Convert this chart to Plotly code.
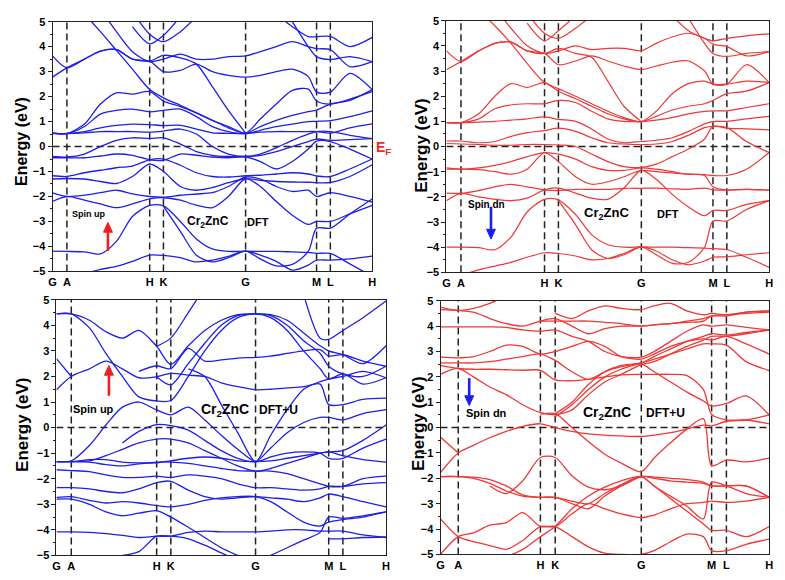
import plotly.graph_objects as go

W, H = 785, 580
FONT = "Liberation Sans"

# ---------------- k-path ----------------
K_LABELS = ["G", "A", "H", "K", "G", "M", "L", "H"]
NODES_TL = [0, 0.045, 0.304, 0.347, 0.604, 0.826, 0.869, 1.0]
NODES_BR = [0, 0.054, 0.304, 0.349, 0.611, 0.825, 0.870, 1.0]
GRID = [0, 0.045, 0.10, 0.15, 0.20, 0.25, 0.304, 0.347, 0.40, 0.45, 0.50,
        0.55, 0.604, 0.65, 0.70, 0.75, 0.80, 0.826, 0.869, 0.93, 1.0]
GRID_BR = [0, 0.054, 0.10, 0.15, 0.20, 0.25, 0.304, 0.349, 0.40, 0.45, 0.50,
           0.55, 0.611, 0.65, 0.70, 0.75, 0.80, 0.825, 0.870, 0.93, 1.0]
N = None

# ---------------- spin up, DFT (top left) ----------------
TL_BANDS = [
    [-5.4,-5.3,-5.1,-4.92,-4.8,-4.6,-4.35,-4.36,-4.45,-4.62,-4.55,-4.4,-4.19,-4.5,-4.78,-4.72,-4.2,-3.27,-3.27,-2.7,-2.1],
    [-4.19,-4.2,-4.22,-4.3,-3.8,-2.8,-2.36,-2.38,-3.0,-3.7,-4.1,-4.2,-4.19,-4.2,-4.2,-4.22,-4.24,-4.28,-4.28,-4.7,-5.2],
    [N,N,N,N,N,N,N,-2.4,-3.4,-4.35,-4.62,-4.45,-4.19,-4.35,-4.6,-4.95,-4.75,-4.55,-4.55,-4.5,-4.39],
    [-2.2,-2.0,-2.15,-2.3,-2.45,-2.3,-2.1,-2.05,-2.15,-2.35,-2.45,-2.0,-1.29,-1.6,-2.2,-2.75,-3.12,-3.0,-3.0,-2.7,-2.36],
    [-1.86,-2.0,-1.95,-1.85,-1.75,-1.9,-2.0,-2.03,-1.95,-1.9,-1.85,-1.6,-1.22,-1.3,-1.6,-1.8,-1.75,-2.0,-1.85,-2.0,-2.23],
    [-1.3,-1.28,-1.3,-1.4,-1.48,-1.2,-0.7,-1.0,-1.6,-1.75,-1.65,-1.45,-1.29,-1.35,-1.4,-1.42,-1.43,-1.45,-1.44,-1.2,-0.73],
    [-1.17,-1.2,-1.05,-0.95,-0.85,-0.78,-0.53,-0.5,-0.75,-1.05,-1.2,-1.22,-1.17,-1.15,-1.1,-1.05,-1.1,-1.18,-1.2,-0.9,-0.5],
    [-0.45,-0.45,-0.45,-0.38,-0.3,-0.35,-0.53,-0.55,-0.3,-0.35,-0.42,-0.45,-0.42,-0.6,-0.9,-0.6,-0.1,0.22,0.2,-0.1,-0.5],
    [-0.4,-0.42,-0.3,0.0,0.25,0.35,0.32,0.35,0.1,-0.2,-0.35,-0.4,-0.4,-0.35,-0.2,0.0,0.2,0.3,0.25,0.28,0.32],
    [0.52,0.52,0.55,0.6,0.6,0.6,0.58,0.62,0.7,0.5,0.0,-0.3,-0.4,-0.3,-0.05,0.25,0.5,0.6,0.6,0.45,0.32],
    [0.54,0.52,0.6,0.75,0.85,0.9,0.88,0.84,0.85,0.7,0.55,0.53,0.52,0.58,0.6,0.6,0.6,0.6,0.54,0.75,0.91],
    [0.54,0.52,0.8,1.3,1.45,1.5,1.39,1.45,1.5,1.2,0.8,0.6,0.52,0.65,0.8,0.9,1.0,1.01,1.04,1.2,1.43],
    [0.54,0.52,0.9,1.7,2.15,2.1,2.2,1.82,1.6,1.35,1.05,0.8,0.54,0.8,1.05,1.25,1.4,1.46,1.7,1.85,2.28],
    [N,N,5.3,4.6,3.85,3.1,2.28,1.95,1.65,1.35,1.05,0.75,0.54,1.1,1.7,2.25,2.3,1.82,1.7,1.9,2.2],
    [2.78,3.15,3.5,3.82,3.88,3.5,3.42,3.0,3.05,3.3,3.0,2.85,2.78,2.85,3.0,3.1,2.8,2.18,2.18,2.93,2.28],
    [3.63,3.15,3.5,3.82,3.88,3.5,3.42,3.65,3.55,3.3,2.4,1.45,0.54,N,N,N,N,N,N,N,N],
    [N,N,N,5.5,4.6,3.8,3.4,3.5,3.7,3.5,3.5,3.6,3.63,3.8,4.0,4.2,4.0,3.92,3.88,3.2,3.4],
    [N,N,N,N,N,5.4,4.5,4.2,4.6,5.2,N,N,N,N,5.3,4.8,4.4,4.4,4.41,4.0,4.37],
    [N,N,N,N,N,4.8,4.11,4.45,5.2,N,N,N,N,N,N,5.0,4.0,3.6,3.48,3.6,3.4],
]

# ---------------- spin dn, DFT (top right) ----------------
TR_BANDS = [
    [-5.2,-5.1,-4.9,-4.75,-4.6,-4.4,-4.22,-4.25,-4.35,-4.5,-4.45,-4.25,-3.99,-4.3,-4.64,-4.6,-4.0,-2.96,-2.96,-2.5,-2.15],
    [-4.0,-4.0,-4.02,-4.1,-3.6,-2.6,-2.1,-2.12,-2.7,-3.5,-3.9,-4.0,-3.99,-4.0,-4.0,-4.02,-4.04,-4.06,-4.09,-4.4,-4.8],
    [N,N,N,N,N,N,N,-2.15,-3.1,-4.1,-4.45,-4.3,-3.99,-4.15,-4.5,-4.7,-4.55,-4.4,-4.38,-4.3,-4.22],
    [-2.15,-1.86,-2.0,-2.1,-2.15,-2.05,-1.72,-1.65,-1.85,-2.05,-2.1,-1.65,-0.95,-1.3,-1.9,-2.4,-2.75,-2.54,-2.54,-2.3,-2.15],
    [-1.85,-1.86,-1.75,-1.6,-1.5,-1.6,-1.72,-1.75,-1.7,-1.7,-1.7,-1.66,-1.66,-1.65,-1.68,-1.7,-1.65,-1.72,-1.73,-1.7,-1.73],
    [-0.9,-0.9,-0.92,-1.0,-1.1,-0.9,-0.24,-0.6,-1.2,-1.5,-1.4,-1.2,-0.95,-1.0,-1.05,-1.1,-1.12,-1.15,-1.15,-0.9,-0.24],
    [-0.85,-0.9,-0.85,-0.75,-0.6,-0.4,-0.24,-0.3,-0.5,-0.8,-0.95,-0.95,-0.85,-0.9,-1.0,-1.1,-1.15,-1.6,-1.73,-1.7,-1.73],
    [0.12,0.1,0.08,0.05,0.05,0.08,0.08,0.06,0.0,-0.3,-0.6,-0.8,-0.83,-0.7,-0.4,-0.1,0.3,0.8,0.73,0.7,0.66],
    [0.22,0.22,0.15,0.2,0.4,0.55,0.63,0.73,0.6,0.35,0.15,0.1,0.08,0.1,0.2,0.45,0.75,0.8,0.75,0.2,-0.24],
    [0.95,0.95,0.97,1.0,1.05,1.1,1.18,1.08,1.0,0.7,0.3,0.15,0.2,0.25,0.35,0.6,0.9,0.99,1.0,1.1,1.2],
    [0.95,0.95,1.1,1.5,1.65,1.7,1.7,1.83,1.75,1.4,1.1,1.0,0.99,1.05,1.15,1.3,1.4,1.42,1.42,1.55,1.7],
    [0.95,0.95,1.3,2.0,2.5,2.35,2.54,2.2,1.9,1.6,1.3,1.1,0.99,1.2,1.45,1.6,1.7,1.83,2.1,2.2,2.54],
    [N,N,5.4,4.8,4.1,3.3,2.54,2.3,2.0,1.7,1.4,1.15,0.99,1.4,2.1,2.5,2.6,2.48,2.48,2.6,2.54],
    [3.05,3.38,3.8,4.1,4.15,3.8,3.7,3.25,3.4,3.6,3.4,3.2,3.06,3.2,3.35,3.4,3.0,2.48,2.48,3.25,2.54],
    [3.8,3.38,3.8,4.1,4.15,3.8,3.7,3.9,3.7,3.55,2.6,1.6,0.99,N,N,N,N,N,N,N,N],
    [N,N,N,5.5,4.7,4.0,3.7,3.8,4.0,3.85,3.9,3.9,3.81,4.1,4.35,4.5,4.3,4.07,3.97,3.6,3.77],
    [N,N,N,N,N,5.3,4.5,4.3,4.7,5.2,N,N,N,N,5.2,4.6,4.3,4.2,4.3,4.4,4.48],
    [N,N,N,N,N,4.9,4.2,4.6,5.2,N,N,N,N,N,N,5.1,4.1,3.7,3.58,3.7,3.77],
]

# ---------------- spin up, DFT+U (bottom left) ----------------
BL_BANDS = [
    [N,N,N,N,-5.0,-4.85,-4.25,-4.25,-4.35,-4.6,-4.9,-5.2,N,N,N,N,N,-4.35,-4.35,-4.3,-4.28],
    [-4.08,-4.08,-4.1,-4.15,-4.22,-4.3,-4.25,-4.25,-4.1,-4.05,-4.08,-4.08,-4.08,-4.05,-4.0,-4.0,-4.05,-4.05,-4.05,-4.2,-4.3],
    [-2.8,-2.8,-3.0,-3.3,-3.45,-3.35,-3.25,-3.5,-3.9,-4.3,-4.7,-5.0,-5.3,-5.0,-4.7,-4.4,-4.1,-3.5,-3.55,-3.45,-3.3],
    [-2.74,-2.7,-2.85,-2.95,-2.9,-2.95,-3.05,-3.1,-3.0,-2.85,-2.75,-2.7,-2.7,-2.9,-3.3,-3.7,-3.85,-3.7,-3.6,-3.5,-3.3],
    [-2.35,-2.35,-2.4,-2.5,-2.55,-2.4,-2.15,-2.1,-2.45,-2.7,-2.8,-2.75,-2.7,-2.75,-2.8,-2.9,-2.75,-2.6,-2.7,-2.9,-3.1],
    [-1.65,-1.68,-1.72,-1.85,-1.95,-1.95,-1.9,-1.95,-1.85,-1.9,-2.0,-2.2,-2.35,-2.35,-2.4,-2.45,-2.4,-2.3,-2.3,-2.2,-2.15],
    [-1.33,-1.33,-1.35,-1.45,-1.5,-1.42,-1.35,-1.35,-1.4,-1.5,-1.6,-1.68,-1.7,-1.7,-1.8,-2.0,-2.2,-2.3,-2.3,-2.0,-1.9],
    [-1.33,-1.33,-1.25,-1.25,-1.35,-1.38,-1.38,-1.3,-1.2,-1.15,-1.2,-1.3,-1.33,-1.3,-1.2,-1.1,-1.0,-0.95,-1.1,-1.25,-1.35],
    [-1.33,-1.3,-0.7,0.1,0.8,1.0,0.69,0.5,0.8,0.3,-0.3,-0.85,-1.33,-1.15,-1.0,-0.95,-1.0,-1.2,-1.2,-0.8,-0.45],
    [-1.33,-1.33,-1.3,-1.1,-0.85,-0.6,-0.45,-0.45,-0.6,-0.9,-1.2,-1.5,-1.7,-1.6,-1.4,-1.2,-1.0,-0.95,-0.9,-0.5,0.1],
    [N,N,N,N,-0.6,-0.15,0.12,0.08,-0.1,-0.5,-0.9,-1.2,-1.33,-0.8,-0.2,0.2,0.4,0.4,0.3,0.55,0.7],
    [1.48,2.0,2.3,2.6,2.3,1.95,1.99,2.12,2.05,2.0,1.75,1.6,1.48,1.5,1.55,1.6,1.7,0.9,0.9,1.1,1.15],
    [2.7,2.0,N,N,N,N,N,N,N,N,N,N,N,N,N,N,N,N,N,N,N],
    [4.45,4.45,3.9,2.9,2.0,1.2,1.04,1.06,2.0,3.0,3.8,4.3,4.45,4.3,3.8,3.0,2.3,1.9,2.1,1.7,1.95],
    [N,N,N,N,N,N,1.99,1.67,2.5,3.3,4.0,4.38,4.45,4.38,4.0,3.4,2.9,2.4,2.1,2.0,2.4],
    [4.45,4.45,4.2,3.75,3.5,3.8,3.18,2.47,3.2,3.8,4.2,4.42,4.45,4.42,4.2,3.7,3.2,3.0,2.85,2.5,3.2],
    [N,N,N,N,N,N,N,N,2.3,2.0,0.9,-0.2,-1.33,-0.3,0.7,1.5,1.8,1.9,2.0,2.2,1.95],
    [N,N,N,N,N,2.2,2.42,2.3,3.1,2.6,2.65,2.72,2.75,2.8,2.9,3.0,3.05,2.8,2.85,2.6,2.4],
    [N,N,N,N,N,N,3.18,3.5,4.5,5.5,N,N,N,N,N,5.2,3.5,3.45,3.8,4.3,4.95],
]

# ---------------- spin dn, DFT+U (bottom right) ----------------
BR_BANDS = [
    [-5.0,-4.3,-4.15,-3.85,-3.75,-3.35,-3.9,-3.9,-4.3,-4.7,-4.95,-5.0,-5.0,-4.85,-4.5,-4.2,-4.3,-4.85,-4.85,-4.6,-4.4],
    [-3.6,-4.3,-4.5,-4.65,-4.8,-4.45,-3.9,-3.9,-3.4,-3.0,-3.2,-3.4,-3.55,-3.45,-3.2,-3.0,-2.95,-2.9,-2.95,-2.9,-2.75],
    [N,N,N,N,-5.1,-4.8,-4.3,-3.9,-3.2,-2.7,-2.35,-2.1,-1.93,-2.3,-2.8,-3.3,-3.8,-4.05,-4.05,-4.3,-3.9],
    [-1.93,-1.93,-2.0,-2.2,-2.5,-2.7,-2.75,-2.75,-2.9,-3.0,-2.6,-2.25,-1.93,-2.3,-2.7,-3.1,-3.6,-2.15,-2.3,-2.6,-2.75],
    [-1.93,-1.93,-1.95,-2.05,-2.3,-2.65,-2.75,-2.75,-3.0,-3.2,-2.7,-2.3,-1.93,-2.0,-2.1,-2.15,-2.2,-2.3,-2.3,-2.3,-2.75],
    [-1.77,-1.0,-0.7,-0.4,-0.15,0.05,0.15,0.0,-0.15,-0.25,-0.3,-0.33,-0.35,-0.3,-0.2,-0.05,0.1,0.07,0.25,0.3,0.5],
    [-0.38,-1.0,N,N,N,N,N,N,N,N,N,N,N,N,N,N,N,N,N,N,N],
    [N,N,N,-2.3,-2.6,-2.1,-1.18,-1.18,-1.9,-2.35,-2.45,-2.3,-1.93,-1.95,-2.0,-2.05,-2.15,-2.3,-2.3,-2.3,-2.75],
    [N,N,N,N,N,N,0.52,0.55,0.0,-0.55,-1.05,-1.4,-1.74,-1.2,-0.6,-0.05,0.35,-1.5,-1.28,-1.35,-1.2],
    [N,N,N,N,N,N,N,0.43,0.9,1.5,2.0,2.3,2.5,2.2,1.8,1.4,1.05,0.85,0.95,1.25,0.5],
    [2.1,2.33,2.0,1.6,1.3,0.9,0.59,0.52,0.7,1.3,1.8,2.1,2.48,2.6,2.9,3.2,3.45,3.6,3.6,3.7,3.85],
    [2.45,2.33,2.3,2.3,2.28,2.26,2.26,1.88,1.85,1.9,2.0,2.08,2.1,2.1,2.1,2.05,1.5,0.52,0.3,0.3,0.15],
    [2.55,2.55,2.55,2.6,2.7,2.8,2.9,2.65,2.2,1.9,2.2,2.4,2.55,2.7,2.9,3.1,3.3,3.3,3.25,2.6,2.25],
    [2.78,2.75,2.8,3.0,3.25,3.2,2.9,3.0,3.2,3.4,3.2,2.8,2.7,2.9,3.2,3.4,3.5,3.45,3.6,3.3,2.9],
    [N,N,N,N,N,N,N,0.55,1.0,1.7,2.2,2.45,2.55,2.8,3.1,3.4,3.6,3.7,3.65,3.75,3.85],
    [3.97,3.97,3.97,3.97,3.95,3.85,3.8,3.85,3.6,3.4,3.0,2.8,2.78,3.0,3.4,3.8,4.05,4.0,4.05,3.95,3.85],
    [4.65,4.62,4.55,4.3,4.1,4.0,4.2,4.3,4.0,3.7,3.9,4.0,4.0,4.05,4.1,4.15,4.2,4.4,4.45,4.5,4.55],
    [4.75,4.62,4.7,4.9,5.2,N,N,4.5,4.3,4.6,4.8,4.7,4.65,4.8,4.9,4.6,4.45,4.5,4.45,4.55,4.6],
    [N,N,N,N,N,N,4.2,4.2,4.2,4.2,4.15,4.1,4.0,4.05,4.1,4.2,4.3,4.4,4.4,4.55,4.6],
]

BLUE = "rgb(30,30,235)"
RED = "rgb(240,55,55)"

def px(x):
    return x / W

def py(y):
    return 1 - y / H

# panel pixel boxes: (left, right, top, bottom)
PANELS = [
    dict(bands=TL_BANDS, grid=GRID, nodes=NODES_TL, color=BLUE, box=(49, 372, 16, 271), lw=1.3),
    dict(bands=TR_BANDS, grid=GRID, nodes=NODES_TL, color=RED, box=(447, 773, 15, 272), lw=1.2),
    dict(bands=BL_BANDS, grid=GRID, nodes=NODES_TL, color=BLUE, box=(53, 386, 300, 561), lw=1.3),
    dict(bands=BR_BANDS, grid=GRID_BR, nodes=NODES_BR, color=RED, box=(441, 773, 301, 560), lw=1.3),
]

fig = go.Figure()
layout = dict(width=W, height=H, margin=dict(l=0, r=0, t=0, b=0),
              paper_bgcolor="white", plot_bgcolor="white", showlegend=False)
shapes = []
tickfont = dict(family=FONT, size=11, color="black", weight="bold")

for i, p in enumerate(PANELS, start=1):
    sfx = "" if i == 1 else str(i)
    xr, yr = "x" + sfx, "y" + sfx
    for b in p["bands"]:
        assert len(b) == len(p["grid"]), (i, len(b))
        fig.add_trace(go.Scatter(x=p["grid"], y=b, mode="lines", xaxis=xr, yaxis=yr,
                                 line=dict(color=p["color"], width=p["lw"], shape="spline", smoothing=0.8),
                                 connectgaps=False, hoverinfo="skip"))
    l, r, t, bt = p["box"]
    layout["xaxis" + sfx] = dict(domain=[px(l), px(r)], range=[0, 1], anchor=yr,
                                 showgrid=False, zeroline=False, showline=True, mirror=True,
                                 linecolor="#222", linewidth=1, tickmode="array",
                                 tickvals=p["nodes"], ticktext=K_LABELS, ticks="", tickfont=tickfont)
    layout["yaxis" + sfx] = dict(domain=[py(bt), py(t)], range=[-5, 5], anchor=xr,
                                 showgrid=False, zeroline=False, showline=True, mirror=True,
                                 linecolor="#222", linewidth=1, tickmode="linear", tick0=-5, dtick=1,
                                 ticks="outside", ticklen=4, tickcolor="#222", tickfont=tickfont,
                                 minor=dict(dtick=0.5, ticks="outside", ticklen=2, tickcolor="#222", showgrid=False))
    for xv in p["nodes"][1:-1]:
        shapes.append(dict(type="line", xref=xr, yref=yr, x0=xv, x1=xv, y0=-5, y1=5, layer="below",
                           line=dict(color="#222", width=1.5, dash="7px,4px")))
    shapes.append(dict(type="line", xref=xr, yref=yr, x0=0, x1=1, y0=0, y1=0, layer="below",
                       line=dict(color="#222", width=1.5, dash="7px,4px")))


def arrow(x, yhead, ytail, color):
    """Vertical arrow drawn as shapes (pixel positions converted to paper)."""
    d = 1 if ytail > yhead else -1      # +1: arrow points up
    base = yhead + d * 10
    shapes.append(dict(type="line", xref="paper", yref="paper", x0=px(x), x1=px(x),
                       y0=py(ytail), y1=py(base), line=dict(color=color, width=2.6)))
    path = "M {:.5f},{:.5f} L {:.5f},{:.5f} L {:.5f},{:.5f} Z".format(
        px(x - 4.5), py(base), px(x + 4.5), py(base), px(x), py(yhead))
    shapes.append(dict(type="path", xref="paper", yref="paper", path=path,
                       fillcolor=color, line=dict(color=color, width=1)))


arrow(105, 221, 250, "rgb(240,30,30)")
arrow(492, 238, 205, "rgb(30,30,235)")
arrow(106, 367, 398, "rgb(240,30,30)")
arrow(470, 408, 380, "rgb(30,30,235)")

layout["shapes"] = shapes

ann = []
def text(x, y, s, size, color="black", angle=0):
    ann.append(dict(x=px(x), y=py(y), xref="paper", yref="paper", text=s, showarrow=False,
                    textangle=angle, xanchor="center", yanchor="middle",
                    font=dict(family=FONT, size=size, color=color, weight="bold")))

# axis titles
text(17, 138, "Energy (eV)", 16, angle=-90)
text(421, 143, "Energy (eV)", 17, angle=-90)
text(18, 428, "Energy (eV)", 17, angle=-90)
text(418, 427, "Energy (eV)", 17, angle=-90)
# Fermi level
text(383, 145, "E<sub>F</sub>", 14, color="rgb(240,40,40)")
# panel labels
text(85, 212, "Spin up", 9)
text(206, 221, "Cr<sub>2</sub>ZnC", 12)
text(257, 221, "DFT", 11)

text(487, 203, "Spin dn", 10)
text(609, 212, "Cr<sub>2</sub>ZnC", 13)
text(671, 212, "DFT", 11)

text(90, 412, "Spin up", 11)
text(223, 413, "Cr<sub>2</sub>ZnC", 14)
text(277, 413, "DFT+U", 12)

text(487, 416, "Spin dn", 11)
text(609, 416, "Cr<sub>2</sub>ZnC", 14)
text(668, 416, "DFT+U", 12)

layout["annotations"] = ann
fig.update_layout(**layout)
fig.write_html("out.html")
